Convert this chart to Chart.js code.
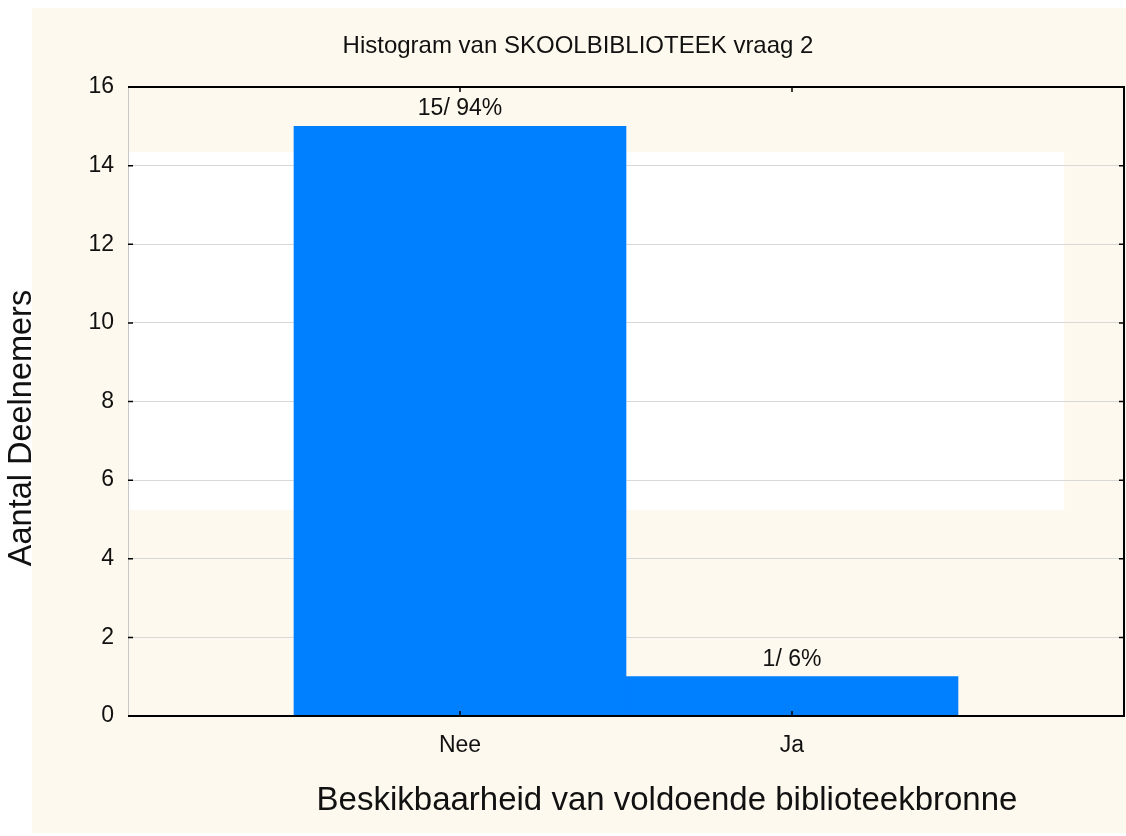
<!DOCTYPE html>
<html>
<head>
<meta charset="utf-8">
<script src="https://cdn.jsdelivr.net/npm/chart.js@4"></script>
<style>
  html, body { margin: 0; padding: 0; background: #fff; }
  #wrap { width: 1126px; height: 836px; }
</style>
</head>
<body>
<div id="wrap"><canvas id="myChart" width="1126" height="836"></canvas></div>
<script>
const categories = ['Nee', 'Ja'];
const counts = [15, 1];
const percents = [94, 6];
const yTicks = [0, 2, 4, 6, 8, 10, 12, 14, 16];

const chartTitle = 'Histogram van SKOOLBIBLIOTEEK vraag 2';
const xTitle = 'Beskikbaarheid van voldoende biblioteekbronne';
const yTitle = 'Aantal Deelnemers';

// pad the category axis with empty slots so bars sit where the original put them
const labels = [''].concat(categories, ['']);
const values = [null].concat(counts, [null]);

const FONT = 'Arial, "Liberation Sans", sans-serif';

const decor = {
  id: 'decor',
  beforeDraw(chart) {
    const { ctx, scales: { x, y } } = chart;
    ctx.save();
    ctx.fillStyle = '#fef9ee';
    ctx.fillRect(32, 8, 1094, 825);
    // white inner panel
    ctx.fillStyle = '#ffffff';
    const l = x.getPixelForValue(0), r = x.getPixelForValue(2.82);
    const t = y.getPixelForValue(14.35), b = y.getPixelForValue(5.24);
    ctx.fillRect(l, t, r - l, b - t);
    ctx.restore();
  },
  afterDraw(chart) {
    const { ctx, chartArea: a, scales: { x, y } } = chart;
    ctx.save();
    ctx.strokeStyle = '#000';
    ctx.lineWidth = 2;
    ctx.beginPath();
    ctx.moveTo(a.left, a.top); ctx.lineTo(a.right, a.top);
    ctx.lineTo(a.right, a.bottom); ctx.lineTo(a.left, a.bottom);
    ctx.stroke();
    // inward tick marks
    ctx.lineWidth = 1.5;
    ctx.beginPath();
    yTicks.forEach(v => {
      const py = y.getPixelForValue(v);
      ctx.moveTo(a.left, py); ctx.lineTo(a.left + 5, py);
      ctx.moveTo(a.right, py); ctx.lineTo(a.right - 5, py);
    });
    categories.forEach((c, i) => {
      const px = x.getPixelForValue(i + 1);
      ctx.moveTo(px, a.top); ctx.lineTo(px, a.top + 5);
      ctx.moveTo(px, a.bottom); ctx.lineTo(px, a.bottom - 5);
    });
    ctx.stroke();

    // value labels
    ctx.fillStyle = '#111';
    ctx.textAlign = 'center';
    ctx.textBaseline = 'alphabetic';
    ctx.font = '23px ' + FONT;
    const meta = chart.getDatasetMeta(0);
    counts.forEach((v, i) => {
      const bar = meta.data[i + 1];
      ctx.fillText(v + '/ ' + percents[i] + '%', bar.x, bar.y - 11);
    });

    // titles
    ctx.font = '24px ' + FONT;
    ctx.textBaseline = 'middle';
    ctx.fillText(chartTitle, 578, 46);
    ctx.font = '33px ' + FONT;
    ctx.fillText(xTitle, 667, 801);
    ctx.font = '32.5px ' + FONT;
    ctx.translate(22, 428);
    ctx.rotate(-Math.PI / 2);
    ctx.fillText(yTitle, 0, 0);
    ctx.restore();
  }
};

new Chart(document.getElementById('myChart').getContext('2d'), {
  type: 'bar',
  data: {
    labels: labels,
    datasets: [{
      data: values,
      backgroundColor: '#007fff',
      borderWidth: 0,
      barPercentage: 1,
      categoryPercentage: 1
    }]
  },
  options: {
    responsive: false,
    animation: false,
    events: [],
    layout: { padding: { top: 87, right: 2, left: 0, bottom: 0 } },
    plugins: { legend: { display: false }, tooltip: { enabled: false } },
    scales: {
      x: {
        offset: false,
        afterFit(s) { s.height = 120; s.paddingLeft = 0; s.paddingRight = 0; },
        grid: { display: false, drawTicks: false },
        border: { display: false },
        ticks: { color: '#111', padding: 16, maxRotation: 0, font: { family: FONT, size: 23 } }
      },
      y: {
        min: 0,
        max: 16,
        afterFit(s) { s.width = 128; },
        afterBuildTicks(s) { s.ticks = yTicks.map(v => ({ value: v })); },
        grid: { color: '#d8d8d8', drawTicks: false },
        border: { color: '#c8c8c8', width: 1 },
        ticks: { color: '#111', padding: 14, font: { family: FONT, size: 23 } }
      }
    }
  },
  plugins: [decor]
});
</script>
</body>
</html>
